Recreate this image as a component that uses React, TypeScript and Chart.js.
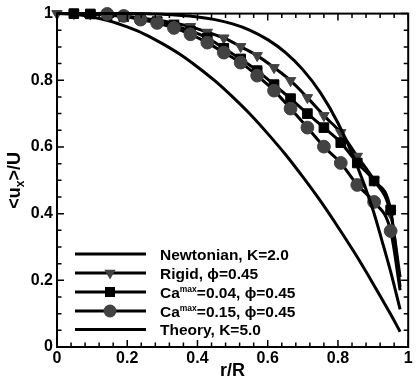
import React, { useEffect, useRef } from 'react';
import { Chart, registerables } from 'chart.js';

Chart.register(...registerables);

// ---------- data ----------
// radial positions of the simulation samples
const rGrid = [0, 0.048, 0.095, 0.143, 0.19, 0.238, 0.285, 0.333, 0.38, 0.428, 0.475, 0.523, 0.57, 0.618, 0.665, 0.713, 0.76, 0.808, 0.855, 0.903, 0.95, 0.977];

const rigidValues = [1.0, 1.0, 0.999, 0.997, 0.993, 0.987, 0.98, 0.972, 0.961, 0.944, 0.927, 0.901, 0.874, 0.838, 0.799, 0.748, 0.694, 0.643, 0.572, 0.5, 0.4, 0.21];
const ca004Values = [null, 1.0, 0.999, 0.996, 0.991, 0.984, 0.976, 0.964, 0.948, 0.927, 0.896, 0.864, 0.829, 0.787, 0.745, 0.7, 0.658, 0.613, 0.552, 0.498, 0.411, 0.18];
const ca015Values = [null, null, null, 0.999, 0.993, 0.982, 0.972, 0.957, 0.938, 0.913, 0.883, 0.853, 0.814, 0.769, 0.715, 0.658, 0.601, 0.552, 0.486, 0.435, 0.348, 0.17];

const rNewtonian = [0, 0.05, 0.1, 0.15, 0.2, 0.25, 0.3, 0.35, 0.4, 0.45, 0.5, 0.55, 0.6, 0.65, 0.7, 0.75, 0.8, 0.85, 0.9, 0.95, 0.977];
const newtonianValues = [1.0, 0.998, 0.99, 0.978, 0.96, 0.938, 0.91, 0.878, 0.84, 0.798, 0.75, 0.698, 0.64, 0.578, 0.51, 0.438, 0.36, 0.278, 0.19, 0.098, 0.046];

const rTheory = [0, 0.1, 0.2, 0.3, 0.4, 0.45, 0.5, 0.55, 0.6, 0.65, 0.7, 0.75, 0.8, 0.85, 0.9, 0.925, 0.95, 0.977];
const theoryValues = [1.0, 1.0, 1.0, 0.998, 0.99, 0.982, 0.969, 0.95, 0.922, 0.884, 0.832, 0.763, 0.672, 0.556, 0.41, 0.32, 0.226, 0.113];

const xTickLabels = ['0', '0.2', '0.4', '0.6', '0.8', '1'];
const yTickLabels = ['0', '0.2', '0.4', '0.6', '0.8', '1'];

const legendLabels = ['Newtonian, K=2.0', 'Rigid, \u03D5=0.45', 'Ca|max|=0.04, \u03D5=0.45', 'Ca|max|=0.15, \u03D5=0.45', 'Theory, K=5.0'];
const legendMarkers = ['none', 'triangle', 'rect', 'circle', 'none'];

const FONT = '"Liberation Sans", Arial, Helvetica, sans-serif';
const GRAY = '#424242';

function pts(xs: number[], ys: (number | null)[]) {
  const out: { x: number; y: number }[] = [];
  xs.forEach((x, i) => {
    const y = ys[i];
    if (y !== null && y !== undefined) out.push({ x, y });
  });
  return out;
}

function radii(n: number, r: number) {
  const a = new Array(n).fill(r);
  a[n - 1] = 0; // line end has no marker
  return a;
}

function drawMarker(ctx: CanvasRenderingContext2D, kind: string, x: number, y: number) {
  if (kind === 'triangle') {
    const r = 6.5;
    ctx.fillStyle = GRAY;
    ctx.beginPath();
    ctx.moveTo(x - r * 0.866, y - r * 0.5);
    ctx.lineTo(x + r * 0.866, y - r * 0.5);
    ctx.lineTo(x, y + r);
    ctx.closePath();
    ctx.fill();
  } else if (kind === 'rect') {
    ctx.fillStyle = '#000';
    ctx.fillRect(x - 5, y - 5, 10, 10);
  } else if (kind === 'circle') {
    ctx.fillStyle = GRAY;
    ctx.beginPath();
    ctx.arc(x, y, 6.5, 0, Math.PI * 2);
    ctx.fill();
  }
}

const framePlugin = {
  id: 'frameAndExtras',
  afterDraw(chart: any) {
    const ctx: CanvasRenderingContext2D = chart.ctx;
    const a = chart.chartArea;
    const xs = chart.scales.x;
    const ys = chart.scales.y;
    ctx.save();
    // frame
    ctx.strokeStyle = '#000';
    ctx.lineWidth = 2;
    ctx.strokeRect(a.left, a.top, a.right - a.left, a.bottom - a.top);
    // inward ticks
    ctx.lineWidth = 1.5;
    ctx.beginPath();
    for (let i = 0; i <= 25; i++) {
      const v = i * 0.04;
      const px = xs.getPixelForValue(v);
      const len = i % 5 === 0 ? 7 : 4.5;
      ctx.moveTo(px, a.bottom);
      ctx.lineTo(px, a.bottom - len);
      ctx.moveTo(px, a.top);
      ctx.lineTo(px, a.top + len);
    }
    for (let i = 0; i <= 20; i++) {
      const v = i * 0.05;
      const py = ys.getPixelForValue(v);
      const len = i % 4 === 0 ? 7 : 4.5;
      ctx.moveTo(a.left, py);
      ctx.lineTo(a.left + len, py);
      ctx.moveTo(a.right, py);
      ctx.lineTo(a.right - len, py);
    }
    ctx.stroke();

    // legend
    const rowY = [254, 273, 292, 311, 329.5];
    legendLabels.forEach((label, i) => {
      const y = rowY[i];
      ctx.strokeStyle = '#000';
      ctx.lineWidth = 3;
      ctx.beginPath();
      ctx.moveTo(75, y);
      ctx.lineTo(146, y);
      ctx.stroke();
      drawMarker(ctx, legendMarkers[i], 110, y);
      ctx.fillStyle = '#000';
      ctx.textBaseline = 'alphabetic';
      ctx.textAlign = 'left';
      let x = 160;
      const base = y + 5.5;
      const parts = label.split('|');
      parts.forEach((p, j) => {
        if (j % 2 === 1) {
          ctx.font = `bold 8.5px ${FONT}`;
          ctx.fillText(p, x, base - 6);
          x += ctx.measureText(p).width;
        } else {
          ctx.font = `bold 15.5px ${FONT}`;
          ctx.fillText(p, x, base);
          x += ctx.measureText(p).width;
        }
      });
    });

    // x title
    ctx.fillStyle = '#000';
    ctx.font = `bold 18px ${FONT}`;
    ctx.textAlign = 'center';
    ctx.textBaseline = 'alphabetic';
    ctx.fillText('r/R', (a.left + a.right) / 2, 376);

    // y title with subscript
    ctx.save();
    ctx.translate(20, (a.top + a.bottom) / 2);
    ctx.rotate(-Math.PI / 2);
    ctx.textAlign = 'left';
    const big = `bold 18px ${FONT}`;
    const small = `bold 12px ${FONT}`;
    ctx.font = big;
    const w1 = ctx.measureText('<u').width;
    const w3 = ctx.measureText('>/U').width;
    ctx.font = small;
    const w2 = ctx.measureText('x').width;
    let sx = -(w1 + w2 + w3) / 2;
    ctx.font = big;
    ctx.fillText('<u', sx, 0);
    sx += w1;
    ctx.font = small;
    ctx.fillText('x', sx, 4);
    sx += w2;
    ctx.font = big;
    ctx.fillText('>/U', sx, 0);
    ctx.restore();

    ctx.restore();
  },
};

export default function App() {
  const ref = useRef<HTMLCanvasElement | null>(null);
  useEffect(() => {
    if (!ref.current) return;
    const rigid = pts(rGrid, rigidValues);
    const ca004 = pts(rGrid, ca004Values);
    const ca015 = pts(rGrid, ca015Values);
    const chart = new Chart(ref.current, {
      type: 'line',
      data: {
        datasets: [
          {
            label: legendLabels[0],
            data: pts(rNewtonian, newtonianValues),
            borderColor: '#000',
            borderWidth: 3,
            pointRadius: 0,
            cubicInterpolationMode: 'monotone',
            order: 5,
          },
          {
            label: legendLabels[1],
            data: rigid,
            borderColor: '#000',
            borderWidth: 3,
            pointStyle: 'triangle',
            rotation: 180,
            pointRadius: radii(rigid.length, 6),
            pointBackgroundColor: GRAY,
            pointBorderColor: GRAY,
            pointBorderWidth: 1,
            cubicInterpolationMode: 'monotone',
            order: 4,
          },
          {
            label: legendLabels[2],
            data: ca004,
            borderColor: '#000',
            borderWidth: 3,
            pointStyle: 'rect',
            pointRadius: radii(ca004.length, 6.8),
            pointBackgroundColor: '#000',
            pointBorderColor: '#000',
            pointBorderWidth: 1,
            cubicInterpolationMode: 'monotone',
            order: 3,
          },
          {
            label: legendLabels[3],
            data: ca015,
            borderColor: '#000',
            borderWidth: 3,
            pointStyle: 'circle',
            pointRadius: radii(ca015.length, 6.4),
            pointBackgroundColor: GRAY,
            pointBorderColor: GRAY,
            pointBorderWidth: 1,
            cubicInterpolationMode: 'monotone',
            order: 2,
          },
          {
            label: legendLabels[4],
            data: pts(rTheory, theoryValues),
            borderColor: '#000',
            borderWidth: 3,
            pointRadius: 0,
            cubicInterpolationMode: 'monotone',
            order: 1,
          },
        ] as any,
      },
      options: {
        animation: false,
        responsive: false,
        maintainAspectRatio: false,
        layout: { padding: { top: 13, right: 3, left: 0, bottom: 0 } },
        plugins: { legend: { display: false }, tooltip: { enabled: false } },
        datasets: { line: { clip: false } } as any,
        scales: {
          x: {
            type: 'linear',
            min: 0,
            max: 1,
            grid: { display: false, drawTicks: false },
            border: { display: false },
            ticks: {
              stepSize: 0.2,
              padding: 2,
              color: '#000',
              font: { family: FONT, size: 16, weight: 'bold' },
              maxRotation: 0,
              callback: (_v: any, i: number) => xTickLabels[i],
            },
            afterFit: (s: any) => {
              s.height = 30;
            },
          },
          y: {
            type: 'linear',
            min: 0,
            max: 1,
            grid: { display: false, drawTicks: false },
            border: { display: false },
            ticks: {
              stepSize: 0.2,
              padding: 4,
              color: '#000',
              font: { family: FONT, size: 16, weight: 'bold' },
              callback: (_v: any, i: number) => yTickLabels[i],
            },
            afterFit: (s: any) => {
              s.width = 57;
            },
          },
        },
      } as any,
      plugins: [framePlugin],
    });
    return () => chart.destroy();
  }, []);
  return (
    <div style={{ position: 'absolute', left: 0, top: 0, width: 416, height: 377, background: '#fff' }}>
      <canvas ref={ref} width={416} height={377} style={{ width: 416, height: 377, display: 'block' }} />
    </div>
  );
}
